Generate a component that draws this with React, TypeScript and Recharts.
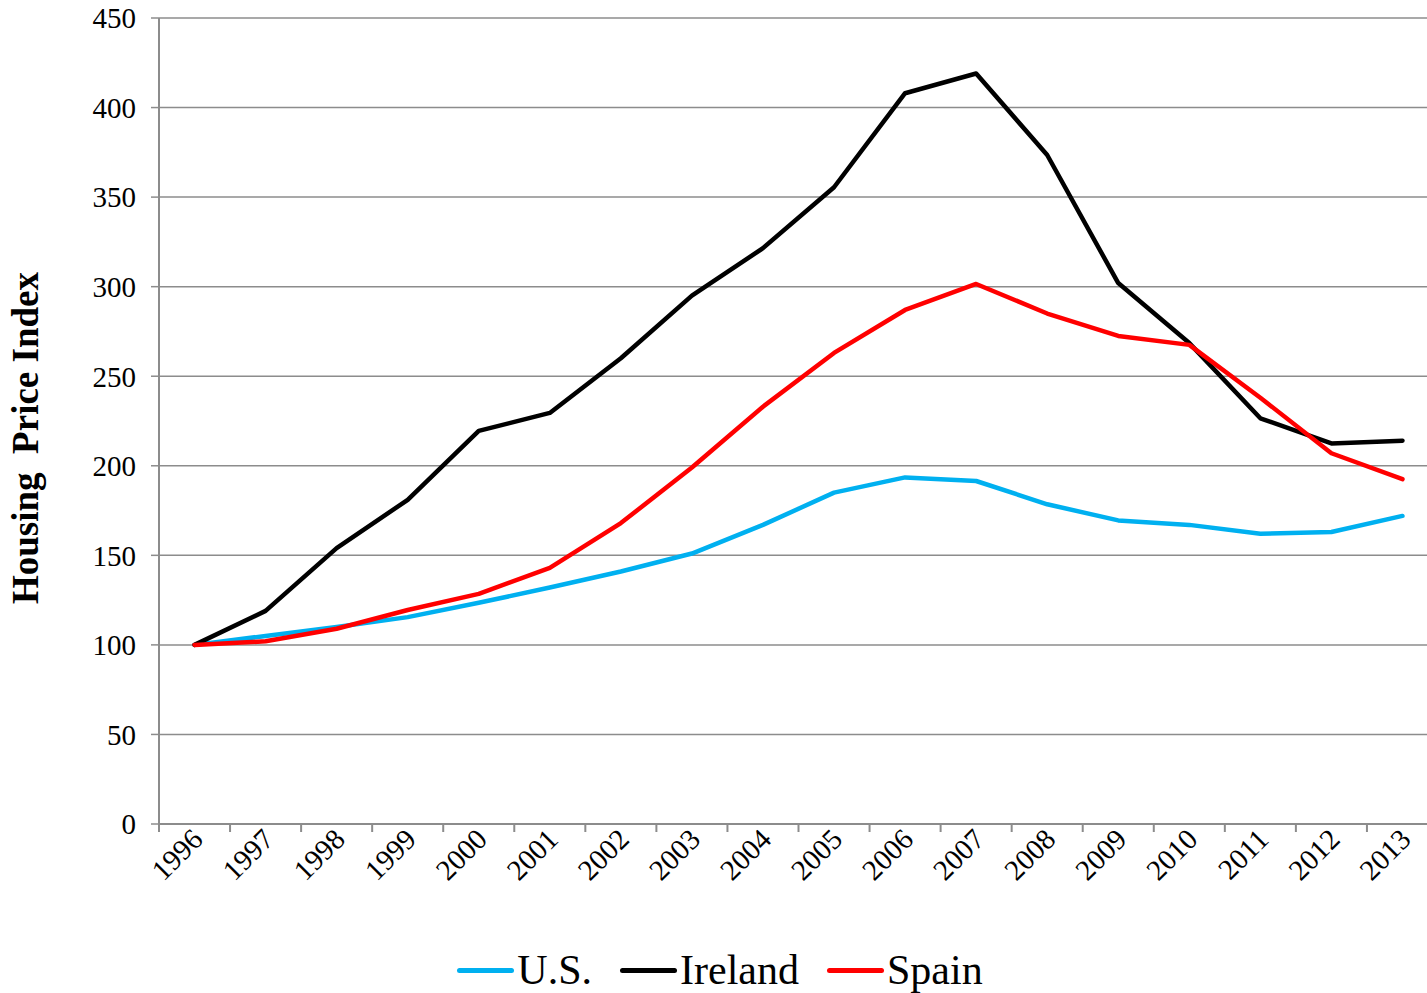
import { CartesianGrid, Legend, Line, LineChart, XAxis, YAxis } from "recharts";

const years = [
  "1996", "1997", "1998", "1999", "2000", "2001", "2002", "2003", "2004",
  "2005", "2006", "2007", "2008", "2009", "2010", "2011", "2012", "2013",
];
const usIndex = [100, 105, 110, 115.5, 123.5, 132, 141, 151, 167, 185, 193.5, 191.5, 178.5, 169.5, 167, 162, 163, 172];
const irelandIndex = [100, 119, 154, 181, 219.5, 229.5, 260, 295, 321.5, 355.5, 408, 419, 373.5, 302, 268.5, 226.5, 212.5, 214];
const spainIndex = [100, 102, 109, 119.5, 128.5, 143, 168, 199, 233, 263, 287, 301.5, 285, 272.5, 267.5, 238, 207, 192.5];
const yTicks = [0, 50, 100, 150, 200, 250, 300, 350, 400, 450];

const series = [
  { key: "us", name: "U.S.", color: "#00B0F0" },
  { key: "ireland", name: "Ireland", color: "#000000" },
  { key: "spain", name: "Spain", color: "#FF0000" },
];

const data = years.map((year, i) => ({
  year,
  us: usIndex[i],
  ireland: irelandIndex[i],
  spain: spainIndex[i],
}));

// the original chart is cut off on the right, so draw it wider and clip
const VIEW_W = 1427;
const CHART_W = 1440;
const CHART_H = 993;
const Y_AXIS_W = 159;
const MARGIN_RIGHT = 2;
const HALF_BAND = (CHART_W - Y_AXIS_W - MARGIN_RIGHT) / years.length / 2;
const AXIS_GRAY = "#8C8C8C";
const FONT = "'Liberation Serif', 'Times New Roman', serif";

function YearTick({ x, y, payload, index }: any) {
  const tx = x + 10;
  const ty = y + 17;
  return (
    <g>
      <line x1={x - HALF_BAND} x2={x - HALF_BAND} y1={y} y2={y + 8} stroke={AXIS_GRAY} strokeWidth={2} />
      {index === years.length - 1 && (
        <line x1={x + HALF_BAND} x2={x + HALF_BAND} y1={y} y2={y + 8} stroke={AXIS_GRAY} strokeWidth={2} />
      )}
      <text
        x={tx}
        y={ty}
        textAnchor="end"
        fontSize={29}
        fontFamily={FONT}
        fill="#000"
        transform={`rotate(-45, ${tx}, ${ty})`}
      >
        {payload.value}
      </text>
    </g>
  );
}

function AxisTitle({ viewBox }: any) {
  const cy = viewBox.y + viewBox.height / 2 + 17;
  return (
    <text
      x={38}
      y={cy}
      textAnchor="middle"
      fontSize={37}
      fontWeight="bold"
      fontFamily={FONT}
      fill="#000"
      style={{ whiteSpace: "pre" }}
      transform={`rotate(-90, 38, ${cy})`}
    >
      {"Housing  Price Index"}
    </text>
  );
}

function LegendRow() {
  return (
    <div
      style={{
        display: "flex",
        justifyContent: "center",
        alignItems: "center",
        height: 69,
        paddingTop: 23,
        boxSizing: "border-box",
        fontFamily: FONT,
        fontSize: 42,
        lineHeight: 1,
      }}
    >
      {series.map((s) => (
        <div key={s.key} style={{ display: "flex", alignItems: "center", margin: "0 14px" }}>
          <span
            style={{
              display: "inline-block",
              width: 57,
              height: 5,
              borderRadius: 3,
              background: s.color,
              marginRight: 3,
            }}
          />
          <span>{s.name}</span>
        </div>
      ))}
    </div>
  );
}

export default function App() {
  return (
    <div
      style={{
        position: "absolute",
        left: 0,
        top: 0,
        width: VIEW_W,
        height: CHART_H,
        overflow: "hidden",
        background: "#fff",
      }}
    >
      <LineChart
        width={CHART_W}
        height={CHART_H}
        data={data}
        margin={{ top: 18, right: MARGIN_RIGHT, left: 0, bottom: 0 }}
      >
        <CartesianGrid vertical={false} stroke={AXIS_GRAY} strokeWidth={1.5} />
        <XAxis
          dataKey="year"
          scale="band"
          height={100}
          tickLine={false}
          tickSize={0}
          tickMargin={0}
          interval={0}
          axisLine={{ stroke: AXIS_GRAY, strokeWidth: 2 }}
          tick={<YearTick />}
        />
        <YAxis
          width={Y_AXIS_W}
          domain={[0, 450]}
          ticks={yTicks}
          interval={0}
          tickSize={8}
          tickMargin={15}
          axisLine={{ stroke: AXIS_GRAY, strokeWidth: 2 }}
          tickLine={{ stroke: AXIS_GRAY, strokeWidth: 1.5 }}
          tick={{ fill: "#000", fontSize: 29, fontFamily: FONT }}
          label={<AxisTitle />}
        />
        <Legend verticalAlign="bottom" wrapperStyle={{ left: 0, width: CHART_W }} content={<LegendRow />} />
        {series.map((s) => (
          <Line
            key={s.key}
            dataKey={s.key}
            name={s.name}
            stroke={s.color}
            strokeWidth={4.5}
            strokeLinejoin="round"
            strokeLinecap="round"
            dot={false}
            isAnimationActive={false}
          />
        ))}
      </LineChart>
    </div>
  );
}
